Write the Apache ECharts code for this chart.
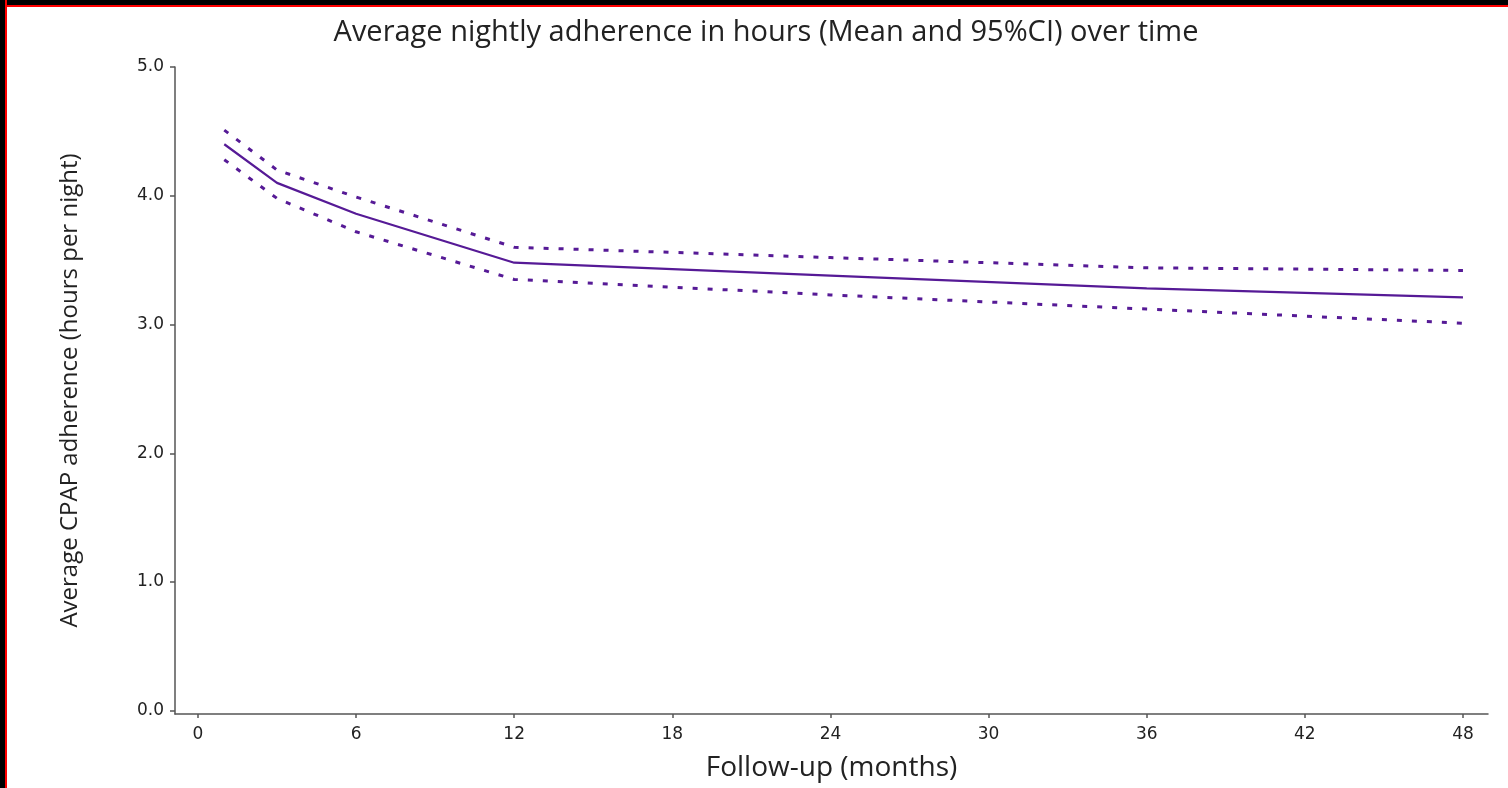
<!DOCTYPE html>
<html>
<head>
<meta charset="utf-8">
<script src="https://cdn.jsdelivr.net/npm/echarts@6/dist/echarts.min.js"></script>
<style>
  html, body { margin: 0; padding: 0; background: #fff; }
  #chart { width: 1508px; height: 788px; }
  .frame-top { position: absolute; left: 0; top: 0; width: 1508px; height: 5px; background: #000; border-bottom: 2px solid #f00; }
  .frame-left { position: absolute; left: 0; top: 0; width: 5px; height: 788px; background: #000; border-right: 2px solid #f00; }
</style>
</head>
<body>
<div id="chart"></div>
<div class="frame-top"></div>
<div class="frame-left"></div>
<script>
// months of follow-up and estimated values (hours per night)
const months = [1, 3, 6, 12, 24, 36, 48]
const meanHours = [4.40, 4.10, 3.86, 3.48, 3.38, 3.28, 3.21]
const upperCI = [4.51, 4.20, 3.99, 3.60, 3.52, 3.44, 3.42]
const lowerCI = [4.28, 3.98, 3.72, 3.35, 3.23, 3.12, 3.01]
const xTicks = [0, 6, 12, 18, 24, 30, 36, 42, 48]
const yTicks = [0, 1, 2, 3, 4, 5]

const purple = '#561a96'
const pair = (ys) => months.map((m, i) => [m, ys[i]])

const chart = echarts.init(document.getElementById('chart'))
chart.setOption({
  animation: false,
  title: {
    text: 'Average nightly adherence in hours (Mean and 95%CI) over time',
    left: 761, top: 13, textAlign: 'center',
    textStyle: { fontFamily: 'Open Sans', fontSize: 29, fontWeight: 'normal', color: '#222' },
  },
  grid: { left: 175, right: 20, top: 67, bottom: 74 },
  xAxis: {
    type: 'value', min: -0.87, max: 48.95,
    name: 'Follow-up (months)', nameLocation: 'middle', nameGap: 40,
    nameTextStyle: { fontFamily: 'Open Sans', fontSize: 28, color: '#222' },
    axisLine: { onZero: false, lineStyle: { color: '#555', width: 1.5 } },
    axisTick: { show: true, length: 4, customValues: xTicks, lineStyle: { color: '#555', width: 1.5 } },
    axisLabel: { customValues: xTicks, margin: 12, fontFamily: 'DejaVu Sans', fontSize: 17, color: '#222' },
    splitLine: { show: false },
  },
  yAxis: {
    type: 'value', min: -0.025, max: 5,
    name: 'Average CPAP adherence (hours per night)', nameLocation: 'middle', nameGap: 93,
    nameTextStyle: { fontFamily: 'Open Sans', fontSize: 24, color: '#222' },
    axisLine: { show: true, onZero: false, lineStyle: { color: '#555', width: 1.5 } },
    axisTick: { show: true, length: 5, customValues: yTicks, lineStyle: { color: '#555', width: 1.5 } },
    axisLabel: { customValues: yTicks, margin: 11, fontFamily: 'DejaVu Sans', fontSize: 17, color: '#222',
      formatter: v => v.toFixed(1) },
    splitLine: { show: false },
  },
  series: [
    { name: 'Mean', type: 'line', data: pair(meanHours), symbol: 'none',
      lineStyle: { color: purple, width: 2.2 } },
    { name: 'Upper 95% CI', type: 'line', data: pair(upperCI), symbol: 'none',
      lineStyle: { color: purple, width: 3, type: [5, 10] } },
    { name: 'Lower 95% CI', type: 'line', data: pair(lowerCI), symbol: 'none',
      lineStyle: { color: purple, width: 3, type: [5, 10] } },
  ],
})
</script>
</body>
</html>
